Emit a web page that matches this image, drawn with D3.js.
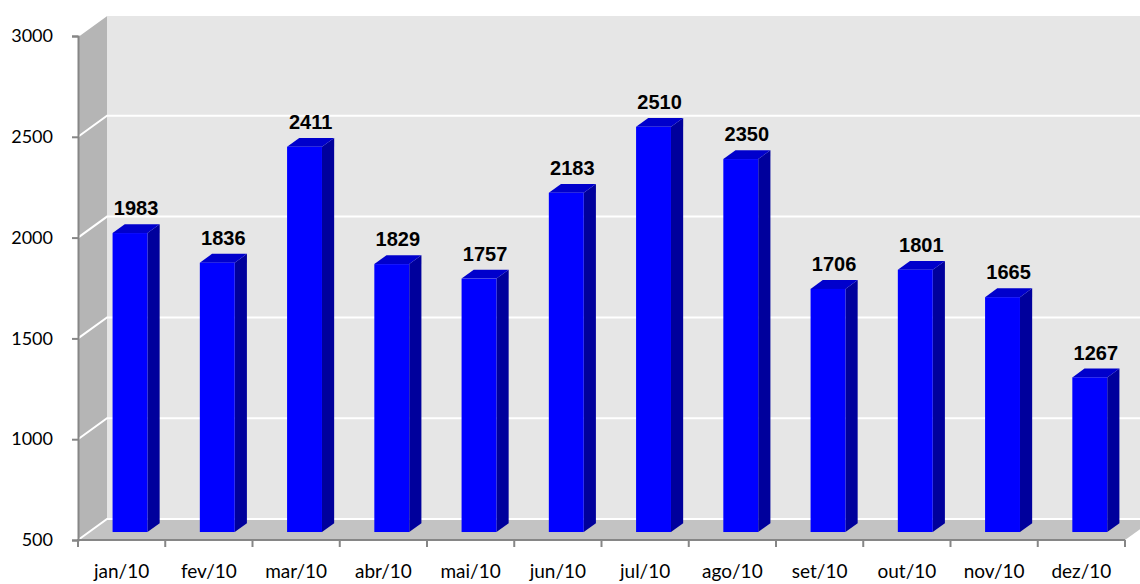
<!DOCTYPE html>
<html><head><meta charset="utf-8">
<script src="https://cdn.jsdelivr.net/npm/d3@7"></script>
<style>html,body{margin:0;padding:0;background:#fff;}svg{display:block;}</style>
</head><body>
<script>
const categories = ["jan/10","fev/10","mar/10","abr/10","mai/10","jun/10","jul/10","ago/10","set/10","out/10","nov/10","dez/10"];
const values = [1983,1836,2411,1829,1757,2183,2510,2350,1706,1801,1665,1267];
const yTicks = [500,1000,1500,2000,2500,3000];

const W = 1140, H = 584;
const DX = 29, DY = 21;          // depth of the 3D box
const dFront = 0.38, dBack = 0.80; // bar depth span (fraction of box depth)

const svg = d3.select("body").append("svg").attr("width", W).attr("height", H);

const x = d3.scaleBand().domain(categories).range([78, 1125]).paddingInner(0.6).paddingOuter(0.3).align(0.45);
const xl = d3.scaleBand().domain(categories).range([78, 1125]);
const xEdge = d3.scaleLinear().domain([0, categories.length]).range([78, 1125]);
const y = d3.scaleLinear().domain([500, 3000]).range([540, 36]);

const x0 = 78, x1 = 1125, yBase = y(500), yTop = y(3000);
const pt = (px, py, d) => [px + DX * d, py - DY * d];
const poly = pts => pts.map(p => p.join(",")).join(" ");

// back wall
svg.append("polygon")
  .attr("points", poly([pt(x0, yTop, 1), pt(x1 + 40, yTop, 1), pt(x1 + 40, yBase, 1), pt(x0, yBase, 1)]))
  .attr("fill", "#e6e6e6");
// left wall
svg.append("polygon")
  .attr("points", poly([[x0, yTop], pt(x0, yTop, 1), pt(x0, yBase, 1), [x0, yBase]]))
  .attr("fill", "#b5b5b5");
// floor
svg.append("polygon")
  .attr("points", poly([[x0, yBase], pt(x0, yBase, 1), pt(x1, yBase, 1), [x1, yBase]]))
  .attr("fill", "#c3c3c3");

// gridlines
const grid = svg.append("g").attr("stroke", "#ffffff").attr("stroke-width", 2).attr("fill", "none");
yTicks.forEach(t => {
  const a = [x0, y(t)], b = pt(x0, y(t), 1), c = pt(x1 + 40, y(t), 1);
  grid.append("polyline").attr("points", poly([a, b, c]));
});

// y axis
const yAxis = svg.append("g").attr("transform", `translate(${x0},0)`)
  .call(d3.axisLeft(y).tickValues(yTicks).tickSize(6).tickPadding(19).tickFormat(d3.format("d")));
yAxis.select(".domain").attr("stroke", "#868686").attr("stroke-width", 2);
yAxis.selectAll(".tick line").attr("stroke", "#868686").attr("stroke-width", 2);
yAxis.selectAll(".tick text").attr("font-family", "Lato, 'Open Sans', sans-serif").attr("font-size", 18).attr("fill", "#000");

// x axis line + ticks
const xa = svg.append("g").attr("stroke", "#868686").attr("stroke-width", 2);
xa.append("line").attr("x1", x0 - 1).attr("x2", x1).attr("y1", yBase).attr("y2", yBase);
d3.range(categories.length + 1).forEach(i => {
  xa.append("line").attr("x1", xEdge(i)).attr("x2", xEdge(i)).attr("y1", yBase).attr("y2", yBase + 7);
});
svg.append("g").selectAll("text").data(categories).join("text")
  .attr("x", d => xl(d) + xl.bandwidth() / 2).attr("y", 578)
  .attr("text-anchor", "middle")
  .attr("font-family", "Lato, 'Open Sans', sans-serif").attr("font-size", 19).attr("fill", "#000")
  .text(d => d);

// bars
const bw = x.bandwidth();
const sdx = DX * (dBack - dFront), sdy = DY * (dBack - dFront);
const bars = svg.append("g").selectAll("g").data(categories.map((c, i) => ({c, v: values[i]}))).join("g");
bars.each(function(d) {
  const g = d3.select(this);
  const [fx, fb] = pt(x(d.c), y(500), dFront);
  const [, ft] = pt(x(d.c), y(d.v), dFront);
  const fr = fx + bw;
  // side
  g.append("polygon").attr("points", poly([[fr, ft], [fr + sdx, ft - sdy], [fr + sdx, fb - sdy], [fr, fb]]))
    .attr("fill", "#00009c");
  // top
  g.append("polygon").attr("points", poly([[fx, ft], [fr, ft], [fr + sdx, ft - sdy], [fx + sdx, ft - sdy]]))
    .attr("fill", "#0000cc");
  // front
  g.append("rect").attr("x", fx).attr("y", ft).attr("width", bw).attr("height", fb - ft).attr("fill", "#0000ff");
  // label
  g.append("text").attr("x", fx + (bw + sdx) / 2).attr("y", ft - sdy - 9)
    .attr("text-anchor", "middle")
    .attr("font-family", "'Liberation Sans', Arial, sans-serif").attr("font-weight", "bold")
    .attr("font-size", 20).attr("fill", "#000")
    .text(d.v);
});
</script>
</body></html>
